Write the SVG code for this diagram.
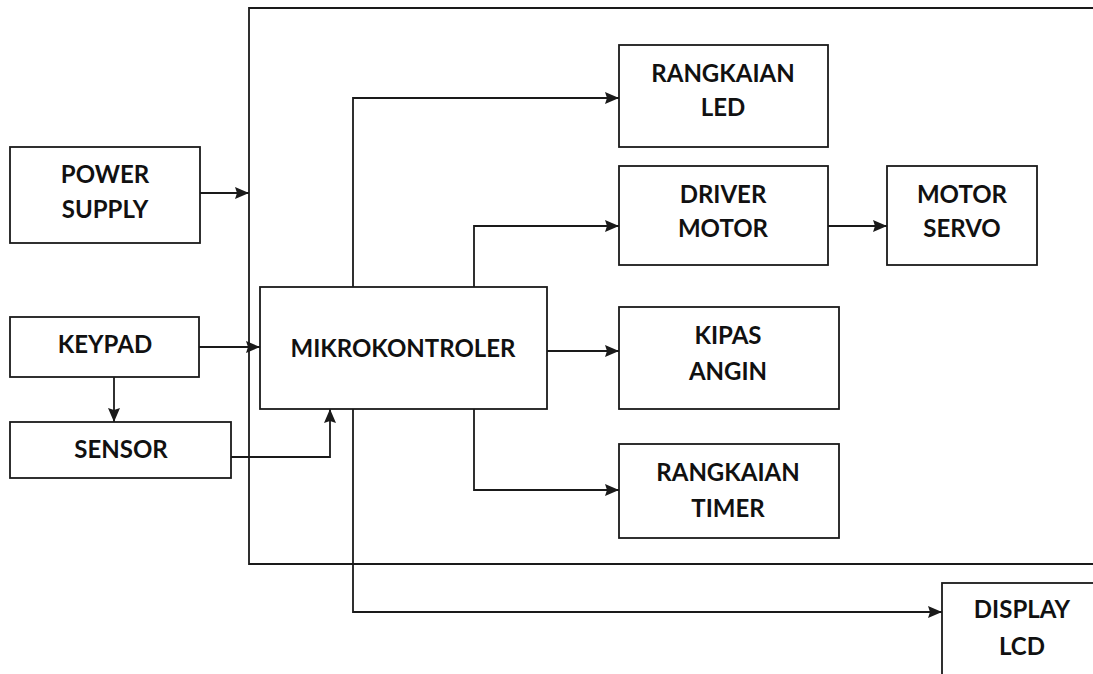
<svg xmlns="http://www.w3.org/2000/svg" width="1093" height="674" viewBox="0 0 1093 674">
<defs>
<marker id="arr" markerUnits="userSpaceOnUse" markerWidth="14" markerHeight="12" refX="14" refY="6" orient="auto">
<path d="M0,0 L14,6 L0,12 L2,6 z" fill="#1a1a1a"/>
</marker>
<style>
.box{fill:#fff;stroke:#1a1a1a;stroke-width:1.8}
.ln{fill:none;stroke:#1a1a1a;stroke-width:1.8}
.t{font-family:Lato,"Liberation Sans",sans-serif;font-weight:bold;font-size:24px;fill:#111;text-anchor:middle}
</style>
</defs>
<rect width="1093" height="674" fill="#fff"/>
<g id="connectors">
<path class="ln" d="M1093 8 H249 V564 H1093"/>
<path class="ln" d="M200 193 H249" marker-end="url(#arr)"/>
<path class="ln" d="M199 347 H260" marker-end="url(#arr)"/>
<path class="ln" d="M114 377 V422" marker-end="url(#arr)"/>
<path class="ln" d="M231 457 H330 V409" marker-end="url(#arr)"/>
<path class="ln" d="M353 287 V98 H619" marker-end="url(#arr)"/>
<path class="ln" d="M474 287 V226 H619" marker-end="url(#arr)"/>
<path class="ln" d="M828 226 H887" marker-end="url(#arr)"/>
<path class="ln" d="M547 351 H619" marker-end="url(#arr)"/>
<path class="ln" d="M474 409 V490 H619" marker-end="url(#arr)"/>
<path class="ln" d="M353 409 V612 H942" marker-end="url(#arr)"/>
</g>
<g id="power-supply">
<rect class="box" x="10" y="147" width="190" height="96"/>
<text class="t" x="105" y="183">POWER</text>
<text class="t" x="105" y="218">SUPPLY</text>
</g>
<g id="keypad">
<rect class="box" x="10" y="317" width="189" height="60"/>
<text class="t" x="105" y="353">KEYPAD</text>
</g>
<g id="sensor">
<rect class="box" x="10" y="422" width="221" height="56"/>
<text class="t" x="121" y="458">SENSOR</text>
</g>
<g id="mikrokontroler">
<rect class="box" x="260" y="287" width="287" height="122"/>
<text class="t" x="403" y="357">MIKROKONTROLER</text>
</g>
<g id="rangkaian-led">
<rect class="box" x="619" y="45" width="209" height="102"/>
<text class="t" x="723" y="82">RANGKAIAN</text>
<text class="t" x="723" y="116">LED</text>
</g>
<g id="driver-motor">
<rect class="box" x="619" y="166" width="209" height="99"/>
<text class="t" x="723" y="203">DRIVER</text>
<text class="t" x="723" y="237">MOTOR</text>
</g>
<g id="motor-servo">
<rect class="box" x="887" y="166" width="150" height="99"/>
<text class="t" x="962" y="203">MOTOR</text>
<text class="t" x="962" y="237">SERVO</text>
</g>
<g id="kipas-angin">
<rect class="box" x="619" y="307" width="220" height="102"/>
<text class="t" x="728" y="344">KIPAS</text>
<text class="t" x="728" y="380">ANGIN</text>
</g>
<g id="rangkaian-timer">
<rect class="box" x="619" y="444" width="220" height="94"/>
<text class="t" x="728" y="481">RANGKAIAN</text>
<text class="t" x="728" y="517">TIMER</text>
</g>
<g id="display-lcd">
<rect class="box" x="942" y="583" width="170" height="120"/>
<text class="t" x="1022" y="618">DISPLAY</text>
<text class="t" x="1022" y="655">LCD</text>
</g>
</svg>
